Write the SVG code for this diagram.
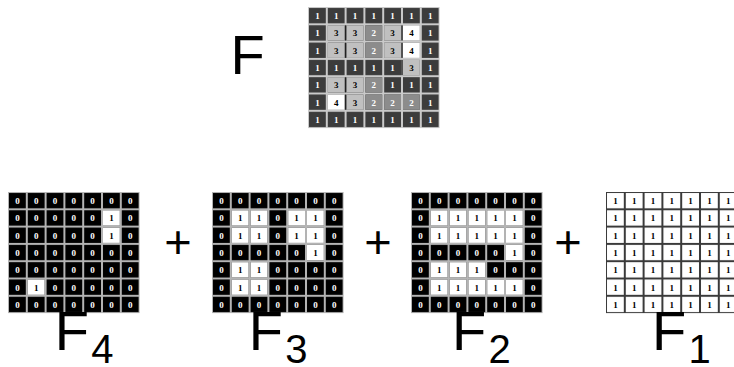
<svg xmlns="http://www.w3.org/2000/svg" width="734" height="367" viewBox="0 0 734 367">
<style>
.grid text{font-family:"Liberation Serif",serif;font-weight:bold;font-size:9px;text-anchor:middle;fill:#000}
.grid text.w{fill:#fff}
.wc{fill:#fff}
.c3{fill:#c0c0c0}
.c2{fill:#8c8c8c}
.c4{fill:#fff}
.dl{fill:#222}
.lbl{font-family:"Liberation Sans",Arial,sans-serif;fill:#000}
.big{font-size:56px}
.sub{font-size:40px}
.plus{font-size:47px;text-anchor:middle}
</style>
<defs>
<pattern id="pd" width="18.8" height="17.3" patternUnits="userSpaceOnUse"><rect width="18.8" height="17.3" fill="#cacaca"/><rect x="1" y="1" width="16.8" height="15.3" fill="#3c3c3c"/></pattern>
<pattern id="pb" width="18.8" height="17.3" patternUnits="userSpaceOnUse"><rect width="18.8" height="17.3" fill="#b4b4b4"/><rect x="1" y="1" width="16.8" height="15.3" fill="#000"/></pattern>
<pattern id="pw" width="18.8" height="17.3" patternUnits="userSpaceOnUse"><rect width="18.8" height="17.3" fill="#3a3a3a"/><rect x="1" y="1" width="16.8" height="15.3" fill="#fff"/></pattern>
</defs>
<rect width="734" height="367" fill="#fff"/>

<g id="gridF" class="grid" transform="translate(308,7)">
<rect width="131.6" height="121.1" fill="url(#pd)"/>
<rect class="c3" x="19.8" y="18.3" width="16.8" height="15.3"/><rect class="c3" x="38.6" y="18.3" width="16.8" height="15.3"/><rect class="c2" x="57.4" y="18.3" width="16.8" height="15.3"/><rect class="c3" x="76.2" y="18.3" width="16.8" height="15.3"/><rect class="c4" x="95" y="18.3" width="16.8" height="15.3"/>
<rect class="c3" x="19.8" y="35.6" width="16.8" height="15.3"/><rect class="c3" x="38.6" y="35.6" width="16.8" height="15.3"/><rect class="c2" x="57.4" y="35.6" width="16.8" height="15.3"/><rect class="c3" x="76.2" y="35.6" width="16.8" height="15.3"/><rect class="c4" x="95" y="35.6" width="16.8" height="15.3"/>
<rect class="c3" x="95" y="52.9" width="16.8" height="15.3"/>
<rect class="c3" x="19.8" y="70.2" width="16.8" height="15.3"/><rect class="c3" x="38.6" y="70.2" width="16.8" height="15.3"/><rect class="c2" x="57.4" y="70.2" width="16.8" height="15.3"/>
<rect class="c4" x="19.8" y="87.5" width="16.8" height="15.3"/><rect class="c3" x="38.6" y="87.5" width="16.8" height="15.3"/><rect class="c2" x="57.4" y="87.5" width="16.8" height="15.3"/><rect class="c2" x="76.2" y="87.5" width="16.8" height="15.3"/><rect class="c2" x="95" y="87.5" width="16.8" height="15.3"/>
<rect class="dl" x="36.9" y="18.3" width="1.4" height="15.3"/><rect class="dl" x="36.9" y="35.6" width="1.4" height="15.3"/><rect class="dl" x="36.9" y="70.2" width="1.4" height="15.3"/><rect class="dl" x="36.9" y="87.5" width="1.4" height="15.3"/>
<rect class="dl" x="93.3" y="18.3" width="1.4" height="15.3"/><rect class="dl" x="93.3" y="35.6" width="1.4" height="15.3"/><rect class="dl" x="93.3" y="52.9" width="1.4" height="15.3"/>
<text class="w" x="9.4" y="12">1</text><text class="w" x="28.2" y="12">1</text><text class="w" x="47" y="12">1</text><text class="w" x="65.8" y="12">1</text><text class="w" x="84.6" y="12">1</text><text class="w" x="103.4" y="12">1</text><text class="w" x="122.2" y="12">1</text>
<text class="w" x="9.4" y="29.3">1</text><text x="28.2" y="29.3">3</text><text x="47" y="29.3">3</text><text class="w" x="65.8" y="29.3">2</text><text x="84.6" y="29.3">3</text><text x="103.4" y="29.3">4</text><text class="w" x="122.2" y="29.3">1</text>
<text class="w" x="9.4" y="46.6">1</text><text x="28.2" y="46.6">3</text><text x="47" y="46.6">3</text><text class="w" x="65.8" y="46.6">2</text><text x="84.6" y="46.6">3</text><text x="103.4" y="46.6">4</text><text class="w" x="122.2" y="46.6">1</text>
<text class="w" x="9.4" y="63.9">1</text><text class="w" x="28.2" y="63.9">1</text><text class="w" x="47" y="63.9">1</text><text class="w" x="65.8" y="63.9">1</text><text class="w" x="84.6" y="63.9">1</text><text x="103.4" y="63.9">3</text><text class="w" x="122.2" y="63.9">1</text>
<text class="w" x="9.4" y="81.2">1</text><text x="28.2" y="81.2">3</text><text x="47" y="81.2">3</text><text class="w" x="65.8" y="81.2">2</text><text class="w" x="84.6" y="81.2">1</text><text class="w" x="103.4" y="81.2">1</text><text class="w" x="122.2" y="81.2">1</text>
<text class="w" x="9.4" y="98.5">1</text><text x="28.2" y="98.5">4</text><text x="47" y="98.5">3</text><text class="w" x="65.8" y="98.5">2</text><text class="w" x="84.6" y="98.5">2</text><text class="w" x="103.4" y="98.5">2</text><text class="w" x="122.2" y="98.5">1</text>
<text class="w" x="9.4" y="115.8">1</text><text class="w" x="28.2" y="115.8">1</text><text class="w" x="47" y="115.8">1</text><text class="w" x="65.8" y="115.8">1</text><text class="w" x="84.6" y="115.8">1</text><text class="w" x="103.4" y="115.8">1</text><text class="w" x="122.2" y="115.8">1</text>
</g>

<g id="gridF4" class="grid" transform="translate(8,192)">
<rect width="131.6" height="121.1" fill="url(#pb)"/>
<rect class="wc" x="95" y="18.3" width="16.8" height="15.3"/><rect class="wc" x="95" y="35.6" width="16.8" height="15.3"/><rect class="wc" x="19.8" y="87.5" width="16.8" height="15.3"/>
<text class="w" x="9.4" y="12">0</text><text class="w" x="28.2" y="12">0</text><text class="w" x="47" y="12">0</text><text class="w" x="65.8" y="12">0</text><text class="w" x="84.6" y="12">0</text><text class="w" x="103.4" y="12">0</text><text class="w" x="122.2" y="12">0</text>
<text class="w" x="9.4" y="29.3">0</text><text class="w" x="28.2" y="29.3">0</text><text class="w" x="47" y="29.3">0</text><text class="w" x="65.8" y="29.3">0</text><text class="w" x="84.6" y="29.3">0</text><text x="103.4" y="29.3">1</text><text class="w" x="122.2" y="29.3">0</text>
<text class="w" x="9.4" y="46.6">0</text><text class="w" x="28.2" y="46.6">0</text><text class="w" x="47" y="46.6">0</text><text class="w" x="65.8" y="46.6">0</text><text class="w" x="84.6" y="46.6">0</text><text x="103.4" y="46.6">1</text><text class="w" x="122.2" y="46.6">0</text>
<text class="w" x="9.4" y="63.9">0</text><text class="w" x="28.2" y="63.9">0</text><text class="w" x="47" y="63.9">0</text><text class="w" x="65.8" y="63.9">0</text><text class="w" x="84.6" y="63.9">0</text><text class="w" x="103.4" y="63.9">0</text><text class="w" x="122.2" y="63.9">0</text>
<text class="w" x="9.4" y="81.2">0</text><text class="w" x="28.2" y="81.2">0</text><text class="w" x="47" y="81.2">0</text><text class="w" x="65.8" y="81.2">0</text><text class="w" x="84.6" y="81.2">0</text><text class="w" x="103.4" y="81.2">0</text><text class="w" x="122.2" y="81.2">0</text>
<text class="w" x="9.4" y="98.5">0</text><text x="28.2" y="98.5">1</text><text class="w" x="47" y="98.5">0</text><text class="w" x="65.8" y="98.5">0</text><text class="w" x="84.6" y="98.5">0</text><text class="w" x="103.4" y="98.5">0</text><text class="w" x="122.2" y="98.5">0</text>
<text class="w" x="9.4" y="115.8">0</text><text class="w" x="28.2" y="115.8">0</text><text class="w" x="47" y="115.8">0</text><text class="w" x="65.8" y="115.8">0</text><text class="w" x="84.6" y="115.8">0</text><text class="w" x="103.4" y="115.8">0</text><text class="w" x="122.2" y="115.8">0</text>
</g>

<g id="gridF3" class="grid" transform="translate(212,192)">
<rect width="131.6" height="121.1" fill="url(#pb)"/>
<rect class="wc" x="19.8" y="18.3" width="16.8" height="15.3"/><rect class="wc" x="38.6" y="18.3" width="16.8" height="15.3"/><rect class="wc" x="76.2" y="18.3" width="16.8" height="15.3"/><rect class="wc" x="95" y="18.3" width="16.8" height="15.3"/>
<rect class="wc" x="19.8" y="35.6" width="16.8" height="15.3"/><rect class="wc" x="38.6" y="35.6" width="16.8" height="15.3"/><rect class="wc" x="76.2" y="35.6" width="16.8" height="15.3"/><rect class="wc" x="95" y="35.6" width="16.8" height="15.3"/>
<rect class="wc" x="95" y="52.9" width="16.8" height="15.3"/>
<rect class="wc" x="19.8" y="70.2" width="16.8" height="15.3"/><rect class="wc" x="38.6" y="70.2" width="16.8" height="15.3"/>
<rect class="wc" x="19.8" y="87.5" width="16.8" height="15.3"/><rect class="wc" x="38.6" y="87.5" width="16.8" height="15.3"/>
<text class="w" x="9.4" y="12">0</text><text class="w" x="28.2" y="12">0</text><text class="w" x="47" y="12">0</text><text class="w" x="65.8" y="12">0</text><text class="w" x="84.6" y="12">0</text><text class="w" x="103.4" y="12">0</text><text class="w" x="122.2" y="12">0</text>
<text class="w" x="9.4" y="29.3">0</text><text x="28.2" y="29.3">1</text><text x="47" y="29.3">1</text><text class="w" x="65.8" y="29.3">0</text><text x="84.6" y="29.3">1</text><text x="103.4" y="29.3">1</text><text class="w" x="122.2" y="29.3">0</text>
<text class="w" x="9.4" y="46.6">0</text><text x="28.2" y="46.6">1</text><text x="47" y="46.6">1</text><text class="w" x="65.8" y="46.6">0</text><text x="84.6" y="46.6">1</text><text x="103.4" y="46.6">1</text><text class="w" x="122.2" y="46.6">0</text>
<text class="w" x="9.4" y="63.9">0</text><text class="w" x="28.2" y="63.9">0</text><text class="w" x="47" y="63.9">0</text><text class="w" x="65.8" y="63.9">0</text><text class="w" x="84.6" y="63.9">0</text><text x="103.4" y="63.9">1</text><text class="w" x="122.2" y="63.9">0</text>
<text class="w" x="9.4" y="81.2">0</text><text x="28.2" y="81.2">1</text><text x="47" y="81.2">1</text><text class="w" x="65.8" y="81.2">0</text><text class="w" x="84.6" y="81.2">0</text><text class="w" x="103.4" y="81.2">0</text><text class="w" x="122.2" y="81.2">0</text>
<text class="w" x="9.4" y="98.5">0</text><text x="28.2" y="98.5">1</text><text x="47" y="98.5">1</text><text class="w" x="65.8" y="98.5">0</text><text class="w" x="84.6" y="98.5">0</text><text class="w" x="103.4" y="98.5">0</text><text class="w" x="122.2" y="98.5">0</text>
<text class="w" x="9.4" y="115.8">0</text><text class="w" x="28.2" y="115.8">0</text><text class="w" x="47" y="115.8">0</text><text class="w" x="65.8" y="115.8">0</text><text class="w" x="84.6" y="115.8">0</text><text class="w" x="103.4" y="115.8">0</text><text class="w" x="122.2" y="115.8">0</text>
</g>

<g id="gridF2" class="grid" transform="translate(411,192)">
<rect width="131.6" height="121.1" fill="url(#pb)"/>
<rect class="wc" x="19.8" y="18.3" width="16.8" height="15.3"/><rect class="wc" x="38.6" y="18.3" width="16.8" height="15.3"/><rect class="wc" x="57.4" y="18.3" width="16.8" height="15.3"/><rect class="wc" x="76.2" y="18.3" width="16.8" height="15.3"/><rect class="wc" x="95" y="18.3" width="16.8" height="15.3"/>
<rect class="wc" x="19.8" y="35.6" width="16.8" height="15.3"/><rect class="wc" x="38.6" y="35.6" width="16.8" height="15.3"/><rect class="wc" x="57.4" y="35.6" width="16.8" height="15.3"/><rect class="wc" x="76.2" y="35.6" width="16.8" height="15.3"/><rect class="wc" x="95" y="35.6" width="16.8" height="15.3"/>
<rect class="wc" x="95" y="52.9" width="16.8" height="15.3"/>
<rect class="wc" x="19.8" y="70.2" width="16.8" height="15.3"/><rect class="wc" x="38.6" y="70.2" width="16.8" height="15.3"/><rect class="wc" x="57.4" y="70.2" width="16.8" height="15.3"/>
<rect class="wc" x="19.8" y="87.5" width="16.8" height="15.3"/><rect class="wc" x="38.6" y="87.5" width="16.8" height="15.3"/><rect class="wc" x="57.4" y="87.5" width="16.8" height="15.3"/><rect class="wc" x="76.2" y="87.5" width="16.8" height="15.3"/><rect class="wc" x="95" y="87.5" width="16.8" height="15.3"/>
<text class="w" x="9.4" y="12">0</text><text class="w" x="28.2" y="12">0</text><text class="w" x="47" y="12">0</text><text class="w" x="65.8" y="12">0</text><text class="w" x="84.6" y="12">0</text><text class="w" x="103.4" y="12">0</text><text class="w" x="122.2" y="12">0</text>
<text class="w" x="9.4" y="29.3">0</text><text x="28.2" y="29.3">1</text><text x="47" y="29.3">1</text><text x="65.8" y="29.3">1</text><text x="84.6" y="29.3">1</text><text x="103.4" y="29.3">1</text><text class="w" x="122.2" y="29.3">0</text>
<text class="w" x="9.4" y="46.6">0</text><text x="28.2" y="46.6">1</text><text x="47" y="46.6">1</text><text x="65.8" y="46.6">1</text><text x="84.6" y="46.6">1</text><text x="103.4" y="46.6">1</text><text class="w" x="122.2" y="46.6">0</text>
<text class="w" x="9.4" y="63.9">0</text><text class="w" x="28.2" y="63.9">0</text><text class="w" x="47" y="63.9">0</text><text class="w" x="65.8" y="63.9">0</text><text class="w" x="84.6" y="63.9">0</text><text x="103.4" y="63.9">1</text><text class="w" x="122.2" y="63.9">0</text>
<text class="w" x="9.4" y="81.2">0</text><text x="28.2" y="81.2">1</text><text x="47" y="81.2">1</text><text x="65.8" y="81.2">1</text><text class="w" x="84.6" y="81.2">0</text><text class="w" x="103.4" y="81.2">0</text><text class="w" x="122.2" y="81.2">0</text>
<text class="w" x="9.4" y="98.5">0</text><text x="28.2" y="98.5">1</text><text x="47" y="98.5">1</text><text x="65.8" y="98.5">1</text><text x="84.6" y="98.5">1</text><text x="103.4" y="98.5">1</text><text class="w" x="122.2" y="98.5">0</text>
<text class="w" x="9.4" y="115.8">0</text><text class="w" x="28.2" y="115.8">0</text><text class="w" x="47" y="115.8">0</text><text class="w" x="65.8" y="115.8">0</text><text class="w" x="84.6" y="115.8">0</text><text class="w" x="103.4" y="115.8">0</text><text class="w" x="122.2" y="115.8">0</text>
</g>

<g id="gridF1" class="grid" transform="translate(606,192)">
<rect width="131.6" height="121.1" fill="url(#pw)"/>
<text x="9.4" y="12">1</text><text x="28.2" y="12">1</text><text x="47" y="12">1</text><text x="65.8" y="12">1</text><text x="84.6" y="12">1</text><text x="103.4" y="12">1</text><text x="122.2" y="12">1</text>
<text x="9.4" y="29.3">1</text><text x="28.2" y="29.3">1</text><text x="47" y="29.3">1</text><text x="65.8" y="29.3">1</text><text x="84.6" y="29.3">1</text><text x="103.4" y="29.3">1</text><text x="122.2" y="29.3">1</text>
<text x="9.4" y="46.6">1</text><text x="28.2" y="46.6">1</text><text x="47" y="46.6">1</text><text x="65.8" y="46.6">1</text><text x="84.6" y="46.6">1</text><text x="103.4" y="46.6">1</text><text x="122.2" y="46.6">1</text>
<text x="9.4" y="63.9">1</text><text x="28.2" y="63.9">1</text><text x="47" y="63.9">1</text><text x="65.8" y="63.9">1</text><text x="84.6" y="63.9">1</text><text x="103.4" y="63.9">1</text><text x="122.2" y="63.9">1</text>
<text x="9.4" y="81.2">1</text><text x="28.2" y="81.2">1</text><text x="47" y="81.2">1</text><text x="65.8" y="81.2">1</text><text x="84.6" y="81.2">1</text><text x="103.4" y="81.2">1</text><text x="122.2" y="81.2">1</text>
<text x="9.4" y="98.5">1</text><text x="28.2" y="98.5">1</text><text x="47" y="98.5">1</text><text x="65.8" y="98.5">1</text><text x="84.6" y="98.5">1</text><text x="103.4" y="98.5">1</text><text x="122.2" y="98.5">1</text>
<text x="9.4" y="115.8">1</text><text x="28.2" y="115.8">1</text><text x="47" y="115.8">1</text><text x="65.8" y="115.8">1</text><text x="84.6" y="115.8">1</text><text x="103.4" y="115.8">1</text><text x="122.2" y="115.8">1</text>
</g>

<g id="labelF"><text class="lbl big" x="230.4" y="74">F</text></g>
<g id="labelF4"><text class="lbl big" x="54.7" y="350">F</text><text class="lbl sub" x="91.2" y="363">4</text></g>
<g id="labelF3"><text class="lbl big" x="248.7" y="350">F</text><text class="lbl sub" x="285.2" y="363">3</text></g>
<g id="labelF2"><text class="lbl big" x="452" y="350">F</text><text class="lbl sub" x="488.5" y="363">2</text></g>
<g id="labelF1"><text class="lbl big" x="652" y="350">F</text><text class="lbl sub" x="688.5" y="363">1</text></g>

<g id="operators">
<text class="lbl plus" x="178" y="258">+</text>
<text class="lbl plus" x="378" y="258">+</text>
<text class="lbl plus" x="568" y="258">+</text>
</g>
</svg>
